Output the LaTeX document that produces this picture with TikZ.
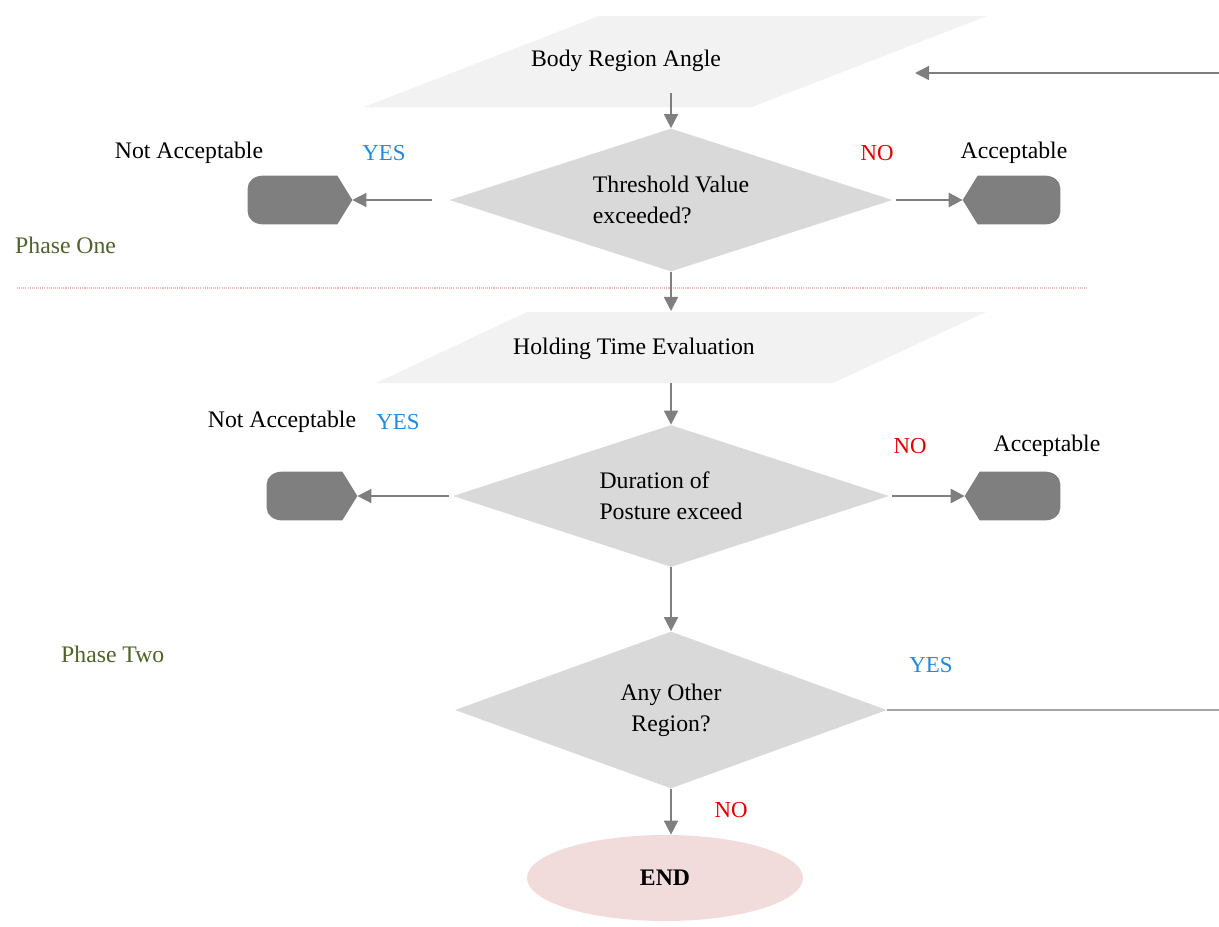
\documentclass[tikz,border=0pt]{standalone}
\usepackage{fontspec}
\setmainfont{Liberation Serif}
\usetikzlibrary{arrows.meta,shapes.geometric}

\definecolor{paragray}{HTML}{F2F2F2}
\definecolor{diagray}{HTML}{D9D9D9}
\definecolor{termgray}{HTML}{7F7F7F}
\definecolor{linegray}{HTML}{7F7F7F}
\definecolor{loopgray}{HTML}{A6A6A6}
\definecolor{endpink}{HTML}{F2DCDB}
\definecolor{yesblue}{HTML}{2488DA}
\definecolor{nored}{HTML}{E00000}
\definecolor{phasegreen}{HTML}{4F6228}
\definecolor{seppink}{HTML}{F4B4B4}

% terminal with its point on the east side
\newcommand{\termright}[1]{%
  \fill[termgray] (#1.east) -- ([xshift=-0.3cm]#1.south east) -- ([xshift=0.3cm]#1.south west)
    .. controls ([xshift=0.134cm]#1.south west) and ([yshift=0.11cm]#1.south west) .. ([yshift=0.25cm]#1.south west)
    -- ([yshift=-0.25cm]#1.north west)
    .. controls ([yshift=-0.11cm]#1.north west) and ([xshift=0.134cm]#1.north west) .. ([xshift=0.3cm]#1.north west)
    -- ([xshift=-0.3cm]#1.north east) -- cycle;}
% terminal with its point on the west side
\newcommand{\termleft}[1]{%
  \fill[termgray] (#1.west) -- ([xshift=0.3cm]#1.south west) -- ([xshift=-0.3cm]#1.south east)
    .. controls ([xshift=-0.134cm]#1.south east) and ([yshift=0.11cm]#1.south east) .. ([yshift=0.25cm]#1.south east)
    -- ([yshift=-0.25cm]#1.north east)
    .. controls ([yshift=-0.11cm]#1.north east) and ([xshift=-0.134cm]#1.north east) .. ([xshift=-0.3cm]#1.north east)
    -- ([xshift=0.3cm]#1.north west) -- cycle;}

\begin{document}
\begin{tikzpicture}[
    x=0.02cm, y=-0.02cm,
    font=\fontsize{13.5}{17.5}\selectfont,
    decision/.style={diamond, fill=diagray, inner sep=0pt, align=left},
    terminal/.style={rectangle, inner sep=0pt, minimum height=0.96cm},
    yes/.style={text=yesblue, font=\fontsize{13}{15}\selectfont},
    no/.style={text=nored, font=\fontsize{13}{15}\selectfont},
    phase/.style={text=phasegreen, anchor=west, font=\fontsize{13.5}{16}\selectfont},
    arrow/.style={-{Triangle[length=8pt,width=8pt]}, draw=linegray, line width=0.9pt},
    thickarrow/.style={arrow, line width=1.6pt}
]
    \useasboundingbox (0,0) rectangle (1219,926);

    % input blocks
    \fill[paragray] (599,16) -- (987,16) -- (752,107) -- (364,107) -- cycle;
    \fill[paragray] (527,312) -- (986,312) -- (833,383) -- (376,383) -- cycle;
    \node (angle) at (626,61) {Body Region Angle};
    \node (holding) at (634,349) {Holding Time Evaluation};
    \coordinate (angleout) at (671,93);
    \coordinate (holdtop) at (671,311);
    \coordinate (holdout) at (671,383);

    % decisions
    \node[decision, aspect=3.1, minimum width=8.86cm, minimum height=2.86cm] (thresh) at (671,200) {Threshold Value\\exceeded?};
    \node[decision, aspect=3.07, minimum width=8.72cm, minimum height=2.84cm] (dur) at (671,496) {Duration of\\Posture exceed};
    \node[decision, aspect=2.75, align=center, minimum width=8.64cm, minimum height=3.14cm] (other) at (671,710) {Any Other\\Region?};
    \node[ellipse, fill=endpink, inner sep=0pt, minimum width=5.52cm, minimum height=1.72cm, font=\fontsize{13.5}{16}\selectfont\bfseries] (finish) at (665,878) {END};

    % terminals
    \node[terminal, minimum width=2.08cm] (notacc1) at (300,200) {};
    \node[terminal, minimum width=1.94cm] (acc1) at (1011.5,200) {};
    \node[terminal, minimum width=1.8cm] (notacc2) at (312,496) {};
    \node[terminal, minimum width=1.9cm] (acc2) at (1012.5,496) {};
    \termright{notacc1}
    \termleft{acc1}
    \termright{notacc2}
    \termleft{acc2}

    % labels
    \node (na1text) at (189,153) {Not Acceptable};
    \node[yes] (yes1) at (384,153) {YES};
    \node[no] (no1) at (877,153) {NO};
    \node (a1text) at (1014,153) {Acceptable};
    \node[phase] (phase1) at (9,245) {Phase One};
    \node (na2text) at (282,422) {Not Acceptable};
    \node[yes] (yes2) at (398,422) {YES};
    \node[no] (no2) at (910,446) {NO};
    \node (a2text) at (1047,446) {Acceptable};
    \node[phase] (phase2) at (55,654) {Phase Two};
    \node[yes] (yes3) at (931,665) {YES};
    \node[no] (no3) at (731,810) {NO};

    % phase separator
    \draw[seppink, line width=0.6pt, dash pattern=on 0.6pt off 0.6pt] (17,288) -- (1087,288);

    % flow
    \draw[arrow] (angleout) -- (thresh.north);
    \draw[arrow] (thresh.south) -- (holdtop);
    \draw[arrow] (holdout) -- (dur.north);
    \draw[arrow] (dur.south) -- (other.north);
    \draw[arrow] (other.south) -- (other.south |- finish.north);
    \draw[arrow, shorten <=0.34cm] (thresh.west) -- (notacc1.east);
    \draw[thickarrow, shorten <=0.06cm] (thresh.east) -- (acc1.west);
    \draw[arrow, shorten <=0.08cm] (dur.west) -- (notacc2.east);
    \draw[thickarrow, shorten <=0.06cm] (dur.east) -- (acc2.west);

    % loop back to the next region
    \coordinate (rim) at (1224,710);
    \coordinate (back) at (915,73);
    \draw[loopgray, line width=1.2pt] (other.east) -- (rim);
    \draw[arrow] (rim) |- (back);
\end{tikzpicture}
\end{document}
